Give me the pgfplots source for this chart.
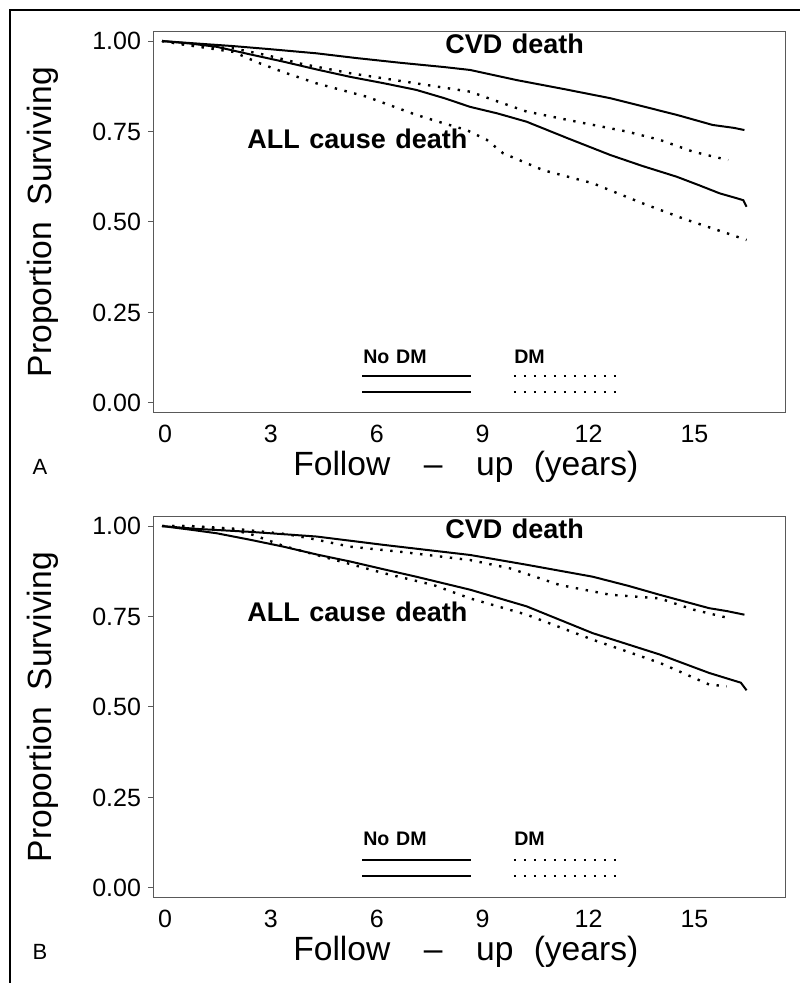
\documentclass[border=0pt]{standalone}
\usepackage{fontspec}
\setmainfont{Liberation Sans}
\usepackage{pgfplots}
\pgfplotsset{compat=1.18}

% Panel A data (time in years, proportion surviving)
\pgfplotstableread{
t s
0 1.0
1 0.993
2.02 0.986
3 0.978
4.38 0.966
5.5 0.953
6.74 0.94
8 0.928
8.73 0.92
10.05 0.892
11.4 0.867
12.7 0.842
13.6 0.82
14.58 0.796
15.6 0.768
16.2 0.76
16.5 0.754
}\AcvdNo
\pgfplotstableread{
t s
0 1.0
0.8 0.993
1.55 0.984
2.5 0.963
3.44 0.943
4.4 0.921
5.33 0.901
6.3 0.883
7.2 0.865
8 0.842
8.73 0.818
9.5 0.8
10.33 0.777
11.5 0.731
12.7 0.685
13.6 0.655
14.58 0.625
15.2 0.602
15.8 0.579
16.3 0.565
16.47 0.56
16.56 0.542
}\AallNo
\pgfplotstableread{
t s
0 1.0
0.7 0.989
2.02 0.98
3 0.96
3.9 0.938
5.33 0.911
7.2 0.883
8.73 0.86
9.39 0.837
10.33 0.805
11.75 0.777
13.16 0.75
14.1 0.727
15.05 0.694
16.04 0.671
}\AcvdDM
\pgfplotstableread{
t s
0 1.0
0.7 0.989
2.02 0.97
2.78 0.938
3.5 0.912
4.38 0.883
5.8 0.846
7.2 0.796
8.0 0.772
8.63 0.754
9.2 0.727
9.66 0.69
10.8 0.643
12.2 0.607
13.6 0.552
14.86 0.506
16.0 0.469
16.56 0.45
}\AallDM

% Panel B data
\pgfplotstableread{
t s
0 1.0
1 0.992
2.49 0.984
4.38 0.971
6.27 0.948
7.5 0.934
8.73 0.92
10.33 0.893
12.2 0.86
13.2 0.835
14.1 0.81
15.5 0.773
16.0 0.765
16.5 0.755
}\BcvdNo
\pgfplotstableread{
t s
0 1.0
0.8 0.99
1.55 0.98
2.5 0.962
3.44 0.943
4.4 0.921
5.33 0.902
6.3 0.88
7.2 0.86
8.73 0.824
10.33 0.778
12.2 0.704
14.1 0.645
15.5 0.594
16.4 0.567
16.56 0.546
}\BallNo
\pgfplotstableread{
t s
0 1.0
0.8 1.0
2.0 0.993
2.8 0.985
3.5 0.978
4.19 0.966
5.33 0.943
6.74 0.929
8.73 0.906
9.86 0.883
11.27 0.837
12.7 0.81
14.1 0.80
15.05 0.769
16.04 0.746
}\BcvdDM
\pgfplotstableread{
t s
0 1.0
0.8 1.0
2.0 0.99
2.6 0.975
3.44 0.945
4.38 0.92
5.33 0.895
6.27 0.87
7.69 0.837
8.73 0.80
10.33 0.755
12.2 0.686
14.1 0.622
15.5 0.562
16.0 0.557
}\BallDM

\tikzset{
  solidkm/.style={black, line width=1pt},
  dotkm/.style={black, line width=1.2pt, dash pattern=on 1.2pt off 3.8pt},
}

\pgfplotsset{kmaxis/.style={
  scale only axis, width=316pt, height=190.5pt,
  xmin=-0.255, xmax=17.65, ymin=-0.028, ymax=1.025,
  axis line style={black!65, line width=0.5pt},
  xtick={0,3,...,15}, ytick={0,0.25,0.5,0.75,1},
  xtick style={draw=none},
  ytick style={black!65, line width=0.5pt},
  tick align=outside, major tick length=2.5pt,
  xtick pos=bottom, ytick pos=left,
  ticklabel style={font=\fontsize{12.5}{12.5}\selectfont},
  xticklabel style={xshift=1.5pt},
  /pgf/number format/assume math mode=true,
  yticklabel style={/pgf/number format/.cd, fixed, fixed zerofill, precision=2},
  xlabel={Follow\hspace{1em}--\hspace{1em}up\hspace{0.6em}(years)},
  ylabel={Proportion\hspace{0.5em}Surviving},
  label style={font=\fontsize{16.8}{16.8}\selectfont},
  xlabel style={at={(axis description cs:0.495,-0.142)}, anchor=center},
  ylabel style={at={(axis description cs:-0.174,0.501)}, anchor=center},
  clip=false,
}}

\begin{document}
\begin{tikzpicture}
\useasboundingbox (0,0) rectangle (400pt,491.5pt);
\draw[line width=1pt] (4.75pt,0) -- (4.75pt,486.25pt) -- (400pt,486.25pt);

% Panel A
\begin{axis}[kmaxis, at={(76.5pt,285pt)}, anchor=south west]
\addplot[solidkm] table[x=t,y=s] {\AcvdNo};
\addplot[solidkm] table[x=t,y=s] {\AallNo};
\addplot[dotkm] table[x=t,y=s] {\AcvdDM};
\addplot[dotkm] table[x=t,y=s] {\AallDM};
\node[anchor=west, inner sep=0, font=\bfseries\fontsize{13.5}{13.5}\selectfont] at (axis cs:8.02,0.992) {CVD\hspace{0.35em}death};
\node[anchor=west, inner sep=0, font=\bfseries\fontsize{13.5}{13.5}\selectfont] at (axis cs:2.41,0.729) {ALL\hspace{0.35em}cause\hspace{0.35em}death};
\node[anchor=west, inner sep=0, font=\bfseries\fontsize{9.8}{9.8}\selectfont] at (axis cs:5.69,0.127) {No\hspace{0.35em}DM};
\node[anchor=west, inner sep=0, font=\bfseries\fontsize{9.8}{9.8}\selectfont] at (axis cs:9.97,0.127) {DM};
\draw[solidkm] (axis cs:5.67,0.075) -- (axis cs:8.75,0.075);
\draw[solidkm] (axis cs:5.67,0.030) -- (axis cs:8.75,0.030);
\draw[dotkm] (axis cs:9.97,0.075) -- (axis cs:12.95,0.075);
\draw[dotkm] (axis cs:9.97,0.030) -- (axis cs:12.95,0.030);
\end{axis}

% Panel B
\begin{axis}[kmaxis, at={(76.5pt,42.5pt)}, anchor=south west]
\addplot[solidkm] table[x=t,y=s] {\BcvdNo};
\addplot[solidkm] table[x=t,y=s] {\BallNo};
\addplot[dotkm] table[x=t,y=s] {\BcvdDM};
\addplot[dotkm] table[x=t,y=s] {\BallDM};
\node[anchor=west, inner sep=0, font=\bfseries\fontsize{13.5}{13.5}\selectfont] at (axis cs:8.02,0.992) {CVD\hspace{0.35em}death};
\node[anchor=west, inner sep=0, font=\bfseries\fontsize{13.5}{13.5}\selectfont] at (axis cs:2.41,0.763) {ALL\hspace{0.35em}cause\hspace{0.35em}death};
\node[anchor=west, inner sep=0, font=\bfseries\fontsize{9.8}{9.8}\selectfont] at (axis cs:5.69,0.135) {No\hspace{0.35em}DM};
\node[anchor=west, inner sep=0, font=\bfseries\fontsize{9.8}{9.8}\selectfont] at (axis cs:9.97,0.135) {DM};
\draw[solidkm] (axis cs:5.67,0.077) -- (axis cs:8.75,0.077);
\draw[solidkm] (axis cs:5.67,0.033) -- (axis cs:8.75,0.033);
\draw[dotkm] (axis cs:9.97,0.077) -- (axis cs:12.95,0.077);
\draw[dotkm] (axis cs:9.97,0.033) -- (axis cs:12.95,0.033);
\end{axis}

\node[font=\fontsize{11}{11}\selectfont] at (20pt,258pt) {A};
\node[font=\fontsize{11}{11}\selectfont] at (20pt,15.5pt) {B};
\end{tikzpicture}
\end{document}
